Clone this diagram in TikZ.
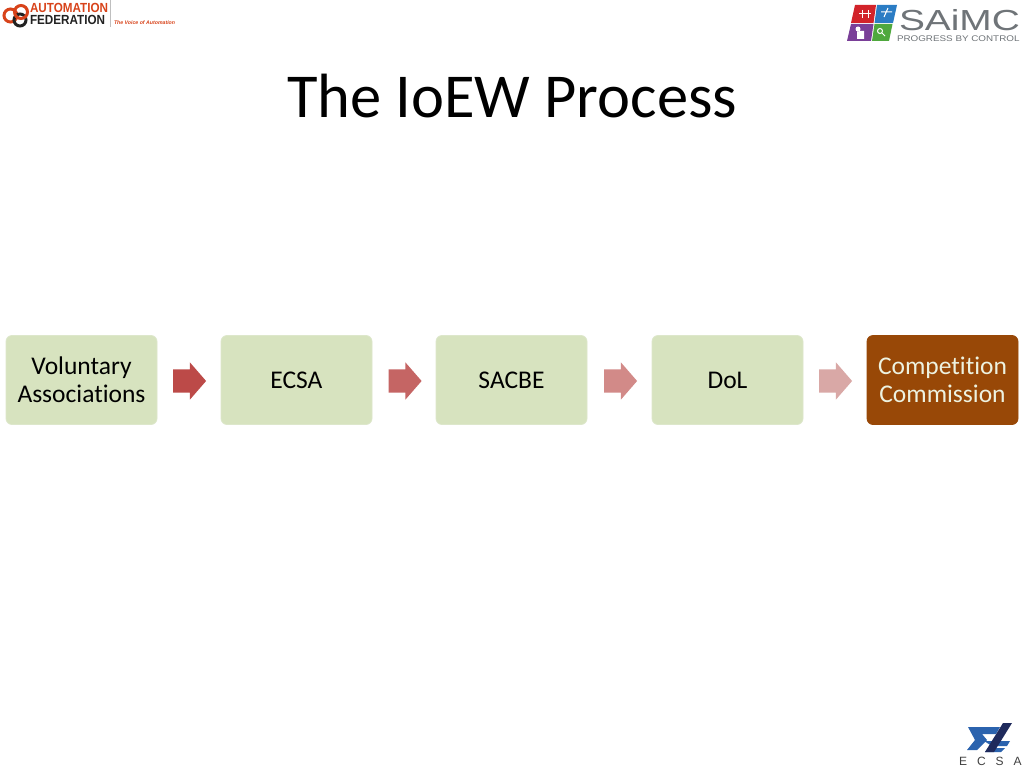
\documentclass[tikz,border=0pt]{standalone}
\usepackage{fontspec}
\usepackage{graphicx}
\setmainfont[Ligatures=NoCommon]{Carlito}
\newfontfamily\logofont{Liberation Sans}
\usetikzlibrary{shapes.arrows}
\definecolor{boxgreen}{HTML}{D7E3BF}
\definecolor{boxedge}{HTML}{DDE7CB}
\definecolor{boxbrown}{HTML}{984807}
\definecolor{boxcream}{HTML}{EDF2E0}
\definecolor{arrowa}{HTML}{BC4A48}
\definecolor{arrowb}{HTML}{C56564}
\definecolor{arrowc}{HTML}{D28A88}
\definecolor{arrowd}{HTML}{D9A8A6}
\definecolor{afred}{HTML}{D8431A}
\definecolor{afblack}{HTML}{222222}
\definecolor{saimcgrey}{HTML}{6F7478}
\definecolor{saimcred}{HTML}{D2232A}
\definecolor{saimcblue}{HTML}{2B7CC4}
\definecolor{saimcpurple}{HTML}{7A3F98}
\definecolor{saimcgreen}{HTML}{4FA83D}
\definecolor{ecsablue}{HTML}{2B63AE}
\definecolor{ecsadark}{HTML}{1F2A5C}
\newcommand{\shaftstrut}{\vrule width 0pt height 23pt depth 0pt}
\tikzset{
  x=1pt,y=-1pt,
  flowbox/.style={rectangle,rounded corners=6pt,fill=boxgreen,draw=boxedge,line width=.8pt,minimum width=151pt,minimum height=89pt,inner sep=0pt,align=center,font=\fontsize{25.5}{28}\selectfont,text=black},
  finalbox/.style={flowbox,fill=boxbrown,draw=boxbrown,text=boxcream},
  blockarrow/.style={single arrow,minimum width=37pt,minimum height=33pt,single arrow head extend=7pt,single arrow tip angle=98,inner sep=0pt,draw=none,fill=#1},
  logotext/.style={inner sep=0pt,outer sep=0pt,font=\logofont,anchor=west}
}
\begin{document}
\begin{tikzpicture}
\useasboundingbox (0,0) rectangle (1024,768);
\fill[white] (0,0) rectangle (1024,768);
\node (title) at (512,96) {\fontsize{62.5}{68}\selectfont The IoEW Process};
\node[flowbox] (va) at (81.5,380) {Voluntary\\Associations};
\node[flowbox] (ecsa) at (296.5,380) {ECSA};
\node[flowbox] (sacbe) at (511.5,380) {SACBE};
\node[flowbox] (dol) at (727.5,380) {DoL};
\node[finalbox] (cc) at (942.5,380) {Competition\\Commission};
\node[blockarrow=arrowa] (a1) at (184.5,381) {\shaftstrut};
\node[blockarrow=arrowb] (a2) at (400,381) {\shaftstrut};
\node[blockarrow=arrowc] (a3) at (615.5,381) {\shaftstrut};
\node[blockarrow=arrowd] (a4) at (830.5,381) {\shaftstrut};
% Automation Federation logo
\draw[line width=3pt,draw=afred] (10.5,15.5) circle (6.5);
\draw[line width=3pt,draw=afblack] (20,20) circle (6);
\draw[line width=3pt,draw=afred] (21,12) circle (6.5);
\node[logotext,text=afred] (af1) at (30,8) {\scalebox{.885}[1]{\bfseries\fontsize{13.2}{14}\selectfont AUTOMATION}};
\node[logotext,text=afblack] (af2) at (30,20) {\scalebox{.885}[1]{\bfseries\fontsize{13.2}{14}\selectfont FEDERATION}};
\draw[black!25,line width=.6pt] (110.5,0) -- (110.5,27);
\node[logotext,text=afred] (af3) at (114,22.5) {\itshape\bfseries\fontsize{5.2}{6}\selectfont The Voice of Automation};
% SAIMC logo
\fill[saimcred] (855,5) -- (876,5) -- (873.5,23) -- (851,23) -- cycle;
\fill[saimcblue] (877,5) -- (897,5) -- (893,23) -- (874.5,23) -- cycle;
\fill[saimcpurple] (851,24) -- (873.5,24) -- (871,41) -- (847,41) -- cycle;
\fill[saimcgreen] (874.5,24) -- (892.5,24) -- (889,41) -- (872,41) -- cycle;
\draw[white,line width=1pt] (859,14) -- (871,14) (862,10) -- (862,18) (868,10) -- (868,18);
\draw[white,line width=1pt] (881,12) -- (892,12) (884,17) -- (888,8);
\fill[white] (858,29) circle (2.5) (857,31) rectangle (864,39);
\draw[white,line width=1pt] (880,31) circle (2.5) (882,33) -- (885,36);
\node[logotext,text=saimcgrey] (sm1) at (899,20) {\scalebox{1.34}[1]{\fontsize{29}{30}\selectfont SAiMC}};
\node[logotext,text=saimcgrey] (sm2) at (897,38.5) {\scalebox{1.2}[1]{\fontsize{8.2}{9}\selectfont PROGRESS BY CONTROL}};
% ECSA logo
\fill[ecsablue] (968,727) -- (1000,727) -- (996,734) -- (982,734) -- (987,740) -- (977,750) -- (967,750) -- (975,740) -- cycle;
\fill[ecsablue] (984,741) -- (1010,741) -- (1007,746) -- (992,746) -- cycle;
\fill[ecsablue] (988,748) -- (1005,748) -- (1001,752) -- (985,752) -- cycle;
\fill[ecsadark] (1003,723) -- (1012,723) -- (994,752) -- (985,752) -- cycle;
\node[logotext,text=black!75] (ec) at (959,761.5) {\fontsize{12}{13}\selectfont E\hspace{10pt}C\hspace{10pt}S\hspace{10pt}A};
\end{tikzpicture}
\end{document}
